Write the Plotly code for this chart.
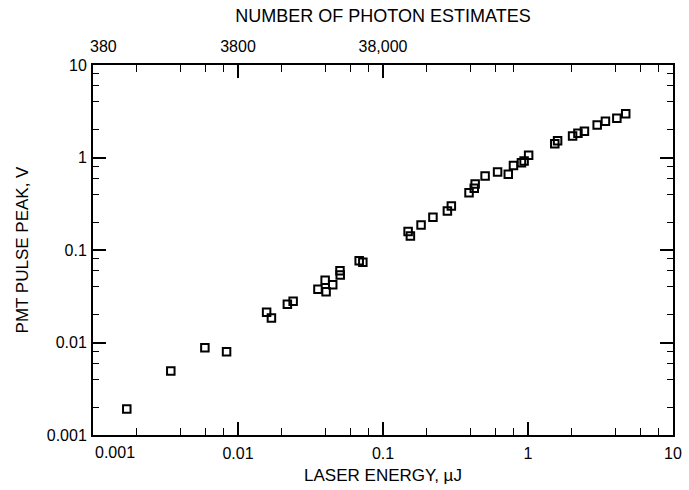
import plotly.graph_objects as go

# Data
laser_energy_uJ = [0.00171, 0.00344, 0.00591, 0.00834, 0.01575, 0.0170, 0.0219, 0.0240,
                   0.0356, 0.0399, 0.0405, 0.0450, 0.0505, 0.0507, 0.0685, 0.0726,
                   0.149, 0.1545, 0.183, 0.221, 0.278, 0.296, 0.392, 0.426, 0.432,
                   0.506, 0.617, 0.731, 0.794, 0.901, 0.940, 1.01, 1.53, 1.60, 2.03,
                   2.21, 2.45, 3.00, 3.42, 4.10, 4.72]
pmt_peak_V = [0.00191, 0.00492, 0.00879, 0.00796, 0.0212, 0.0184, 0.0259, 0.0279,
              0.0376, 0.0470, 0.0354, 0.0422, 0.0597, 0.0537, 0.0766, 0.0736,
              0.158, 0.1416, 0.186, 0.2255, 0.264, 0.299, 0.417, 0.465, 0.518,
              0.631, 0.697, 0.658, 0.817, 0.879, 0.916, 1.057, 1.41, 1.52, 1.71,
              1.83, 1.92, 2.24, 2.46, 2.65, 2.98]

x_tickvals = [0.001, 0.01, 0.1, 1, 10]
x_ticktext = ["0.001", "0.01", "0.1", "1", "10"]
y_tickvals = [0.001, 0.01, 0.1, 1, 10]
y_ticktext = ["0.001", "0.01", "0.1", "1", "10"]
top_tickvals = [0.001, 0.01, 0.1]
top_ticktext = ["380", "3800", "38,000"]

minor_vals = [m * 10.0 ** e for e in range(-3, 1) for m in (2, 4, 6, 8)]

FONT = "Liberation Sans, Arial, sans-serif"

fig = go.Figure()
fig.add_trace(go.Scatter(
    x=laser_energy_uJ, y=pmt_peak_V, mode="markers",
    marker=dict(symbol="square-open", size=7.5, color="black",
                line=dict(width=2, color="black")),
    showlegend=False, xaxis="x", yaxis="y",
))
# invisible trace to activate top axis
fig.add_trace(go.Scatter(x=[0.01], y=[0.01], mode="markers", marker=dict(opacity=0),
                         showlegend=False, hoverinfo="skip", xaxis="x2", yaxis="y"))

common = dict(type="log", range=[-3, 1], showgrid=False, zeroline=False,
              showline=True, linecolor="black", linewidth=2,
              ticks="inside", ticklen=13, tickwidth=1.5, tickcolor="black",
              tickfont=dict(family=FONT, size=16, color="black"))

# the first labels of both x axes are drawn offset to the right of their tick, as in the original
x_ticktext_axis = [""] + x_ticktext[1:]
top_ticktext_axis = [""] + top_ticktext[1:]

fig.update_layout(
    width=689, height=490,
    margin=dict(l=93, r=7, t=65, b=55),
    paper_bgcolor="white", plot_bgcolor="white",
    font=dict(family=FONT, color="black"),
    xaxis=dict(**common, tickmode="array", tickvals=x_tickvals, ticktext=x_ticktext_axis,
               mirror=True, ticklabelstandoff=3,
               minor=dict(tickmode="array", tickvals=minor_vals, ticks="inside",
                          ticklen=7, tickwidth=1.2, tickcolor="black"),
               title=dict(text="LASER ENERGY, \u00b5J", font=dict(family=FONT, size=17),
                          standoff=8)),
    xaxis2=dict(**common, overlaying="x", side="top", tickmode="array",
                tickvals=top_tickvals, ticktext=top_ticktext_axis, ticklabelstandoff=5,
                minor=dict(tickmode="array", tickvals=minor_vals, ticks="inside",
                           ticklen=7, tickwidth=1.2, tickcolor="black"),
                title=dict(text="NUMBER OF PHOTON ESTIMATES",
                           font=dict(family=FONT, size=18), standoff=10)),
    yaxis=dict(**common, tickmode="array", tickvals=y_tickvals, ticktext=y_ticktext,
               mirror="ticks", ticklabelstandoff=1,
               minor=dict(tickmode="array", tickvals=minor_vals, ticks="inside",
                          ticklen=6, tickwidth=1.2, tickcolor="black"),
               title=dict(text="PMT PULSE PEAK, V", font=dict(family=FONT, size=17),
                          standoff=14)),
    annotations=[
        dict(text=x_ticktext[0], xref="x", x=-3, yref="paper", y=0, yanchor="top",
             xanchor="center", xshift=22, yshift=-7, showarrow=False,
             font=dict(family=FONT, size=16, color="black")),
        dict(text=top_ticktext[0], xref="x2", x=-3, yref="paper", y=1, yanchor="bottom",
             xanchor="center", xshift=10, yshift=8, showarrow=False,
             font=dict(family=FONT, size=16, color="black")),
    ],
)

fig.write_html("out.html")
